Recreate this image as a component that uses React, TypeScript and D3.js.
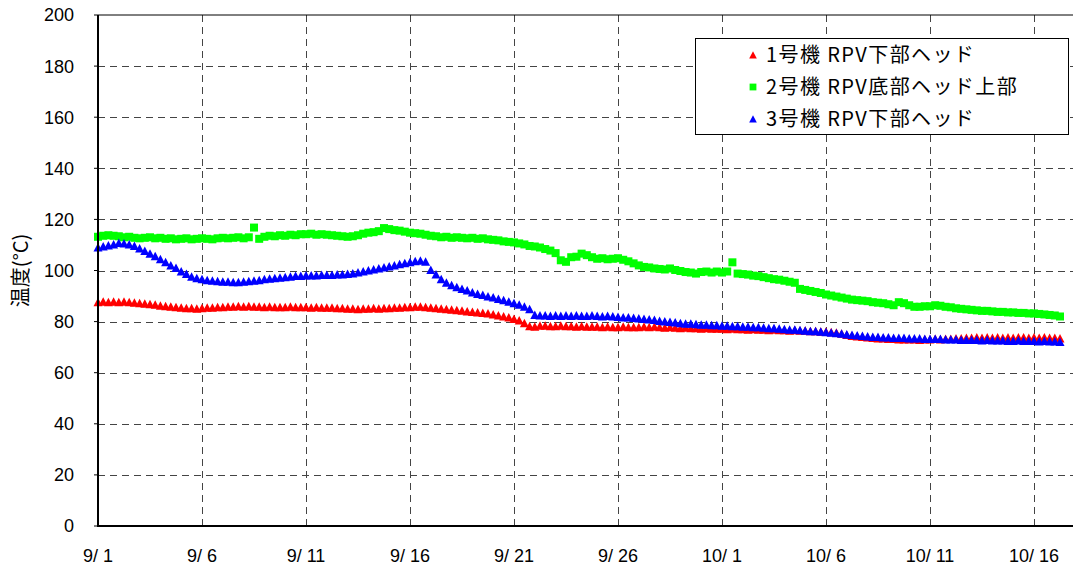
import React from "react";
import * as d3 from "d3";

// readings every 6 hours from 9/1 00:00
const START = new Date(2011, 8, 1);
const STEP_HOURS = 6;

// 1号機 RPV下部ヘッド
const unit1 = [
  87.6, 87.8, 87.6, 87.8, 87.6, 87.8, 87.6, 87.4, 87.2, 87.0, 86.8, 86.6,
  86.2, 86.0, 85.8, 85.6, 85.4, 85.2, 85.2, 85.0, 85.2, 85.4, 85.4, 85.6,
  85.6, 85.8, 85.8, 86.0, 85.8, 86.0, 85.8, 85.8, 85.6, 85.8, 85.6, 85.6,
  85.6, 85.8, 85.6, 85.6, 85.6, 85.4, 85.6, 85.4, 85.4, 85.4, 85.2, 85.2,
  85.0, 85.0, 84.8, 85.0, 85.0, 85.2, 85.0, 85.2, 85.2, 85.4, 85.4, 85.6,
  85.6, 85.8, 85.8, 85.6, 85.4, 85.2, 85.0, 84.8, 84.6, 84.4, 84.2, 84.0,
  83.8, 83.6, 83.4, 83.2, 82.8, 82.4, 82.0, 81.6, 81.0, 80.4, 79.4, 78.2,
  78.0, 78.4, 78.4, 78.2, 78.2, 78.4, 78.2, 78.2, 78.0, 78.2, 78.0, 78.0,
  78.0, 77.8, 78.0, 77.8, 77.8, 78.0, 77.8, 77.8, 77.8, 78.0, 77.8, 78.0,
  77.8, 77.6, 77.8, 77.6, 77.4, 77.6, 77.4, 77.4, 77.2, 77.4, 77.2, 77.2,
  77.2, 77.0, 77.2, 77.0, 77.0, 76.8, 77.0, 76.8, 76.8, 76.6, 76.8, 76.6,
  76.6, 76.4, 76.6, 76.4, 76.4, 76.2, 76.2, 76.0, 76.0, 75.8, 75.6, 75.2,
  74.8, 74.4, 74.2, 74.0, 73.8, 73.6, 73.4, 73.4, 73.2, 73.2, 73.0, 73.0,
  73.0, 73.0, 72.8, 73.0, 73.0, 73.2, 73.0, 73.2, 73.2, 73.4, 73.4, 73.6,
  73.6, 73.8, 73.6, 73.8, 73.6, 73.8, 73.6, 73.8, 73.6, 73.8, 73.8, 73.6,
  73.8, 73.6, 73.8, 73.6, 73.6, 73.4,
];

// 2号機 RPV底部ヘッド上部
const unit2 = [
  113.2, 113.6, 113.8, 113.6, 113.4, 113.0, 113.2, 112.8, 112.6, 112.8, 113.0, 112.6,
  112.8, 112.4, 112.6, 112.2, 112.4, 112.6, 112.2, 112.4, 112.6, 112.4, 112.2, 112.6,
  112.8, 112.6, 112.8, 113.0, 112.6, 113.0, 116.8, 112.4, 113.2, 113.6, 113.4, 113.8,
  113.6, 114.0, 113.8, 114.2, 114.2, 114.4, 114.0, 114.2, 114.0, 113.8, 113.6, 113.4,
  113.2, 113.4, 113.8, 114.4, 114.8, 115.0, 115.4, 116.6, 116.2, 115.8, 115.6, 115.2,
  114.8, 114.6, 114.4, 114.0, 113.6, 113.4, 113.0, 113.2, 112.8, 113.0, 112.8, 112.6,
  112.8, 112.4, 112.6, 112.2, 112.0, 111.8, 111.4, 111.2, 111.0, 110.6, 110.2, 109.6,
  109.4, 109.0, 108.4, 107.8, 106.8, 104.0, 103.4, 105.2, 105.4, 106.6, 106.0, 105.2,
  104.6, 104.8, 104.4, 104.6, 104.8, 104.2, 103.6, 102.8, 102.0, 101.4, 101.2, 100.8,
  100.6, 100.4, 100.8, 100.2, 99.8, 99.4, 99.2, 98.8, 99.4, 99.6, 99.2, 99.6,
  99.2, 99.6, 103.2, 98.8, 98.6, 98.4, 98.0, 97.8, 97.4, 97.0, 96.6, 96.4,
  96.0, 95.6, 95.2, 92.8, 92.4, 92.0, 91.6, 91.2, 90.6, 90.2, 89.8, 89.4,
  89.0, 88.6, 88.4, 88.2, 88.0, 87.6, 87.4, 87.2, 86.8, 86.4, 87.6, 87.2,
  86.4, 85.8, 85.8, 86.0, 86.0, 86.4, 86.2, 85.8, 85.6, 85.2, 85.0, 84.8,
  84.6, 84.4, 84.2, 84.2, 84.0, 83.8, 83.8, 83.6, 83.6, 83.4, 83.4, 83.2,
  83.2, 83.0, 82.8, 82.6, 82.4, 82.0,
];

// 3号機 RPV下部ヘッド
const unit3 = [
  109.0, 109.4, 109.8, 110.2, 110.8, 110.6, 110.2, 109.6, 108.6, 107.6, 106.6, 105.6,
  104.4, 103.2, 102.0, 101.0, 99.6, 98.6, 97.6, 97.0, 96.6, 96.2, 96.0, 95.8,
  95.6, 95.6, 95.4, 95.4, 95.6, 95.8, 96.0, 96.2, 96.6, 96.8, 97.0, 97.2,
  97.4, 97.6, 97.8, 97.8, 98.0, 98.0, 98.0, 98.2, 98.2, 98.2, 98.4, 98.4,
  98.6, 98.8, 99.2, 99.6, 100.0, 100.4, 100.8, 101.2, 101.6, 102.0, 102.4, 102.8,
  103.2, 103.6, 103.8, 103.4, 100.2, 98.4, 96.6, 95.2, 94.2, 93.4, 92.8, 92.2,
  91.4, 90.8, 90.4, 89.8, 89.4, 88.8, 88.4, 87.8, 87.2, 86.6, 85.8, 84.8,
  82.6, 82.4, 82.4, 82.2, 82.4, 82.2, 82.4, 82.2, 82.4, 82.2, 82.2, 82.4,
  82.2, 82.0, 82.2, 82.0, 81.8, 81.6, 81.6, 81.4, 81.2, 81.0, 80.8, 80.6,
  80.2, 80.0, 79.8, 79.6, 79.4, 79.2, 79.2, 79.0, 78.8, 78.8, 78.6, 78.6,
  78.4, 78.4, 78.2, 78.2, 78.0, 78.0, 77.8, 77.8, 77.6, 77.4, 77.4, 77.2,
  77.0, 76.8, 76.8, 76.6, 76.4, 76.2, 76.2, 76.0, 75.8, 75.6, 75.4, 75.2,
  75.0, 74.8, 74.6, 74.4, 74.2, 74.0, 74.0, 73.8, 73.8, 73.6, 73.6, 73.6,
  73.4, 73.4, 73.4, 73.2, 73.2, 73.2, 73.2, 73.0, 73.0, 73.0, 72.8, 72.8,
  72.8, 72.8, 72.6, 72.8, 72.6, 72.6, 72.6, 72.4, 72.4, 72.6, 72.4, 72.4,
  72.4, 72.2, 72.4, 72.2, 72.2, 72.0,
];

const seriesNames = ["1号機 RPV下部ヘッド", "2号機 RPV底部ヘッド上部", "3号機 RPV下部ヘッド"];
const seriesColors = ["#ff0000", "#00ff00", "#0000ff"];
const seriesShapes = ["triangle", "square", "triangle"];

const tickDates = [
  [8, 1], [8, 6], [8, 11], [8, 16], [8, 21], [8, 26],
  [9, 1], [9, 6], [9, 11], [9, 16],
];
const tickLabels = ["9/ 1", "9/ 6", "9/ 11", "9/ 16", "9/ 21", "9/ 26", "10/ 1", "10/ 6", "10/ 11", "10/ 16"];
const yTicks = [0, 20, 40, 60, 80, 100, 120, 140, 160, 180, 200];

const W = 1073;
const H = 571;
const left = 98;
const top = 15;
const bottom = 526;

const font = "'Liberation Sans', 'Noto Sans CJK JP', sans-serif";
const jpFont = "'Noto Sans CJK JP', sans-serif";

function Marker({ shape, color, x, y, s = 1 }) {
  if (shape === "square") {
    const h = 4 * s;
    return <rect x={x - h} y={y - h} width={2 * h} height={2 * h} fill={color} />;
  }
  return (
    <path
      d={`M${x},${y - 4.5 * s}L${x + 4.5 * s},${y + 4 * s}L${x - 4.5 * s},${y + 4 * s}Z`}
      fill={color}
    />
  );
}

export default function App() {
  const x = d3
    .scaleTime()
    .domain([START, new Date(2011, 9, 18)])
    .range([left, left + 47 * 20.8]);
  const y = d3.scaleLinear().domain([0, 200]).range([bottom, top]);

  const series = [unit1, unit2, unit3].map((vals) =>
    vals.map((v, i) => ({ t: d3.timeHour.offset(START, i * STEP_HOURS), v }))
  );

  return (
    <svg
      width={W}
      height={H}
      style={{ position: "absolute", left: 0, top: 0, background: "#fff" }}
      fontFamily={font}
    >
      {/* horizontal grid */}
      {yTicks.slice(1, -1).map((t) => (
        <line key={"h" + t} x1={left} x2={W} y1={Math.round(y(t)) + 0.5} y2={Math.round(y(t)) + 0.5} stroke="#444" strokeDasharray="7,5" />
      ))}
      {/* vertical grid */}
      {tickDates.slice(1).map(([m, d]) => {
        const xx = Math.round(x(new Date(2011, m, d))) + 0.5;
        return <line key={"v" + m + d} x1={xx} x2={xx} y1={top} y2={bottom} stroke="#444" strokeDasharray="7,5" />;
      })}

      {/* series */}
      {series.map((pts, si) => (
        <g key={si}>
          {pts.map((p, i) => (
            <Marker key={i} shape={seriesShapes[si]} color={seriesColors[si]} x={x(p.t)} y={y(p.v)} />
          ))}
        </g>
      ))}

      {/* frame */}
      <line x1={left} x2={W} y1={top} y2={top} stroke="#000" strokeWidth={1} />
      <line x1={left} x2={left} y1={top} y2={bottom + 1} stroke="#000" strokeWidth={2} />
      <line x1={left - 1} x2={W} y1={bottom} y2={bottom} stroke="#000" strokeWidth={2} />

      {/* y axis */}
      {yTicks.map((t) => (
        <g key={"y" + t}>
          <line x1={left - 4} x2={left} y1={y(t)} y2={y(t)} stroke="#000" />
          <text x={74} y={y(t)} dy="0.36em" textAnchor="end" fontSize={18}>
            {t}
          </text>
        </g>
      ))}
      <text
        transform={`translate(28,${(top + bottom) / 2}) rotate(-90)`}
        textAnchor="middle"
        fontSize={20}
        fontFamily={jpFont}
      >
        温度(°C)
      </text>

      {/* x axis */}
      {tickDates.map(([m, d], i) => (
        <text
          key={"x" + i}
          x={x(new Date(2011, m, d))}
          y={562}
          textAnchor="middle"
          fontSize={18}
          style={{ whiteSpace: "pre" }}
        >
          {tickLabels[i]}
        </text>
      ))}

      {/* legend */}
      <rect x={695.5} y={38.5} width={373} height={96} fill="#fff" stroke="#000" />
      {seriesNames.map((name, i) => (
        <g key={"l" + i}>
          <Marker shape={seriesShapes[i]} color={seriesColors[i]} x={753} y={55 + i * 32} s={0.85} />
          <text
            x={766}
            y={55 + i * 32}
            dy="0.36em"
            fontSize={20}
            letterSpacing={1.4}
            fontFamily={jpFont}
          >
            {name}
          </text>
        </g>
      ))}
    </svg>
  );
}
